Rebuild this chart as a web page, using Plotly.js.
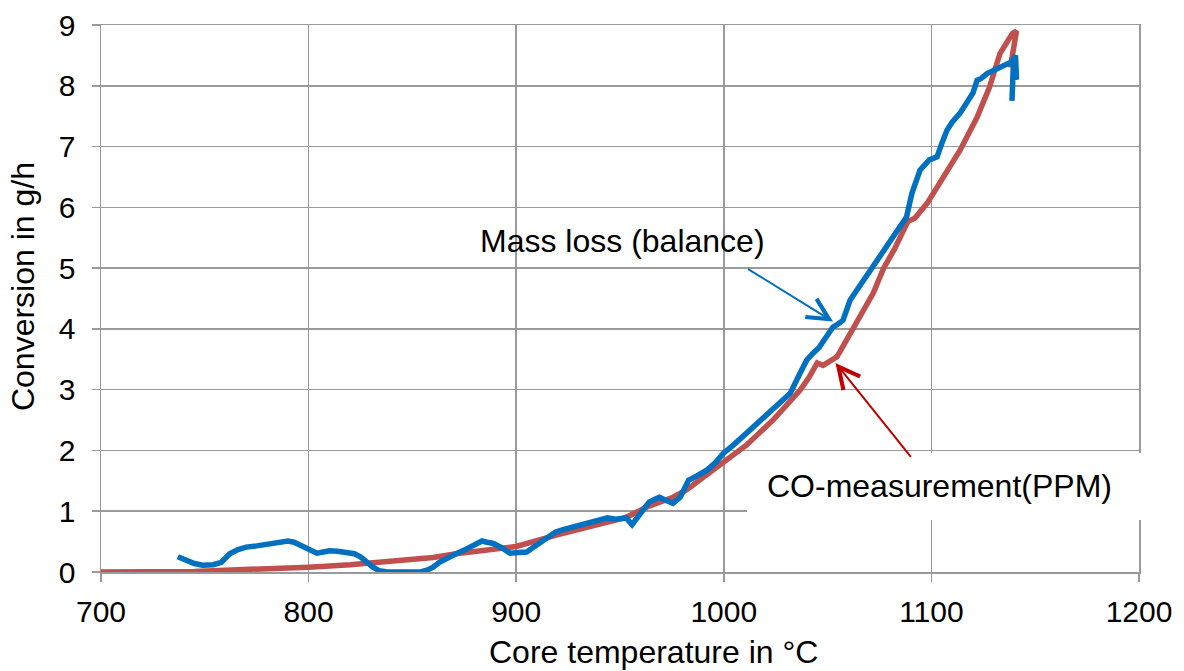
<!DOCTYPE html>
<html>
<head>
<meta charset="utf-8">
<script src="https://cdn.plot.ly/plotly-3.0.1.min.js"></script>
<style>html,body{margin:0;padding:0;background:#fff;}#chart{width:1184px;height:671px;}</style>
</head>
<body>
<div id="chart"></div>
<script>
// Mass loss (balance) – blue series
const massLossTemp = [737,740,745,749,754,758,762,766,770,775,780,783,787,790,793,796,800,804,807,810,814,818,822,825,828,831,834,838,845,850,854,857,860,863,867,871,875,879,883.5,886,889,893,897,901,905,908,911,915,919,923,927,931,934,939,944,948,953,955.8,958,961,964,967,969,972,975.5,979,983,987,992,996,1000,1005,1011,1016,1022,1027,1032,1036.7,1040,1043,1046,1049,1052.6,1055,1057.4,1060.8,1064,1067,1071,1075,1080,1084,1088,1090.6,1094.5,1099,1102.7,1105,1107.5,1110,1113.8,1117,1120,1122,1124,1126.8,1130,1133,1136,1139,1140.5,1141,1139.5,1138.8];
const massLossRate = [0.25,0.2,0.14,0.11,0.12,0.16,0.3,0.37,0.41,0.43,0.46,0.49,0.5,0.51,0.49,0.44,0.37,0.31,0.33,0.35,0.34,0.33,0.3,0.25,0.16,0.08,0.02,0,0,0,0,0.03,0.08,0.16,0.24,0.3,0.36,0.44,0.51,0.49,0.47,0.4,0.31,0.32,0.33,0.4,0.47,0.57,0.66,0.7,0.74,0.77,0.8,0.84,0.89,0.87,0.89,0.78,0.89,1.02,1.15,1.2,1.23,1.18,1.13,1.23,1.51,1.58,1.68,1.8,1.96,2.1,2.29,2.45,2.62,2.78,2.94,3.27,3.49,3.6,3.7,3.85,4.03,4.08,4.14,4.47,4.63,4.75,4.95,5.18,5.4,5.62,5.84,6.23,6.61,6.78,6.83,7.05,7.27,7.4,7.55,7.72,7.88,8.09,8.12,8.2,8.25,8.31,8.35,8.4,8.5,8.1,8.35,7.75];

// CO-measurement (PPM) – red series
const coTemp = [700,720,745,760,780,800,820,840,860,871,880,900,919.7,940,953,963,975.5,982,990,999.6,1011,1023.7,1030,1036.7,1041,1045,1047.8,1050,1054.5,1058,1062,1067,1072,1077,1082,1088.7,1092,1098,1104,1113.8,1122,1128,1133,1137,1139,1141,1139.5,1138];
const coRate = [0,0,0.01,0.03,0.05,0.08,0.12,0.17,0.24,0.3,0.34,0.42,0.61,0.78,0.9,1.07,1.23,1.35,1.55,1.79,2.09,2.5,2.73,2.99,3.2,3.44,3.4,3.45,3.54,3.75,3.98,4.28,4.59,5.0,5.3,5.77,5.82,6.07,6.4,6.94,7.48,7.98,8.53,8.75,8.86,8.9,8.6,8.3];

const xTicks = [700,800,900,1000,1100,1200];
const yTicks = [0,1,2,3,4,5,6,7,8,9];

const FONT = 'Liberation Sans, Arial, sans-serif';

const traces = [
  {x: coTemp, y: coRate, type: 'scatter', mode: 'lines', name: 'CO-measurement(PPM)',
   line: {color: '#C0504D', width: 5.5}},
  {x: massLossTemp, y: massLossRate, type: 'scatter', mode: 'lines', name: 'Mass loss (balance)',
   line: {color: '#0070C0', width: 5.5}}
];

const layout = {
  width: 1184, height: 671,
  margin: {l: 101, r: 45, t: 25, b: 99},
  paper_bgcolor: '#fff', plot_bgcolor: '#fff',
  showlegend: false,
  font: {family: FONT, size: 30, color: '#000'},
  xaxis: {
    range: [700, 1200], tickvals: xTicks, ticktext: xTicks.map(String),
    showgrid: true, gridcolor: '#9a9a9a', gridwidth: 1.5,
    showline: true, linecolor: '#9a9a9a', linewidth: 1.5, mirror: true,
    ticks: 'outside', ticklen: 8, tickcolor: '#9a9a9a', tickwidth: 1.5,
    ticklabelstandoff: 4,
    zeroline: false, tickfont: {size: 30, family: FONT}
  },
  yaxis: {
    range: [0, 9], tickvals: yTicks, ticktext: yTicks.map(String),
    showgrid: true, gridcolor: '#9a9a9a', gridwidth: 1.5,
    showline: true, linecolor: '#9a9a9a', linewidth: 1.5, mirror: true,
    ticks: 'outside', ticklen: 8, tickcolor: '#9a9a9a', tickwidth: 1.5,
    ticklabelstandoff: 10,
    zeroline: false, tickfont: {size: 30, family: FONT}
  },
  shapes: [
    {type: 'rect', xref: 'paper', yref: 'paper', x0: 0.3478, x1: 0.6936, y0: 0.5484, y1: 0.6362,
     fillcolor: '#fff', line: {width: 0}, layer: 'between'},
    {type: 'rect', xref: 'paper', yref: 'paper', x0: 0.6224, x1: 1.003, y0: 0.0951, y1: 0.2176,
     fillcolor: '#fff', line: {width: 0}, layer: 'above'}
  ],
  annotations: [
    {x: 0.532, y: -0.146, xref: 'paper', yref: 'paper', xanchor: 'center', yanchor: 'middle',
     text: 'Core temperature in °C', showarrow: false, font: {size: 32, family: FONT, color: '#000'}},
    {x: -0.0751, y: 0.521, xref: 'paper', yref: 'paper', xanchor: 'center', yanchor: 'middle',
     textangle: -90, text: 'Conversion in g/h', showarrow: false, font: {size: 32, family: FONT, color: '#000'}},
    {x: 951, y: 5.44, xref: 'x', yref: 'y', text: 'Mass loss (balance)', showarrow: false,
     font: {size: 32, family: FONT, color: '#000'}},
    {x: 1104, y: 1.41, xref: 'x', yref: 'y', text: 'CO-measurement(PPM)', showarrow: false,
     font: {size: 32, family: FONT, color: '#000'}},
    {x: 1052.6, y: 4.12, xref: 'x', yref: 'y', ax: 1011, ay: 5.0, axref: 'x', ayref: 'y',
     text: '', showarrow: true, arrowhead: 5, arrowsize: 2.1, arrowwidth: 2, arrowcolor: '#0070C0'},
    {x: 1053.8, y: 3.44, xref: 'x', yref: 'y', ax: 1090.7, ay: 1.87, axref: 'x', ayref: 'y',
     text: '', showarrow: true, arrowhead: 5, arrowsize: 2.1, arrowwidth: 2, arrowcolor: '#C00000'}
  ]
};

Plotly.newPlot('chart', traces, layout, {displayModeBar: false, staticPlot: true});
</script>
</body>
</html>
